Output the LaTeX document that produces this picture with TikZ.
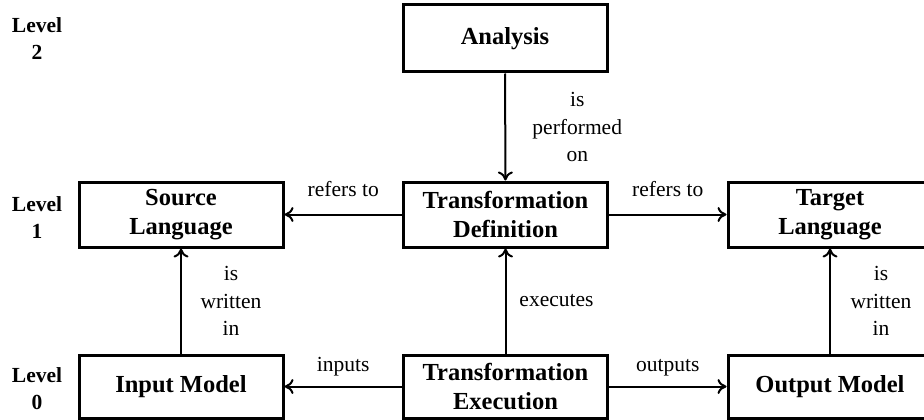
\documentclass[tikz,border=0pt]{standalone}
\usepackage{fontspec}
\setmainfont{Liberation Serif}
\usetikzlibrary{arrows.meta}

\begin{document}
\begin{tikzpicture}[x=1pt,y=-1pt,
    level/.style={align=center,inner sep=0pt,font=\fontsize{21.5}{27}\selectfont\bfseries},
    box/.style={rectangle,draw,line width=3pt,minimum width=204pt,minimum height=65pt,inner sep=0pt,align=center,font=\fontsize{24.5}{29}\selectfont\bfseries},
    conn/.style={line width=2pt,-{To[length=9pt,width=15pt]}},
    lbl/.style={align=center,inner sep=0pt,font=\fontsize{21.5}{27.5}\selectfont}]
        \useasboundingbox (0,0) rectangle (924,420);
        \clip (0,0) rectangle (924,420);
        % levels
        \node[level] at (37,38.5) (lev2) {Level\\2};
        \node[level] at (37,217.5) (lev1) {Level\\1};
        \node[level] at (37,388.5) (lev0) {Level\\0};
        % boxes
        \node[box,minimum height=67pt] at (505,38.5) (ana) {Analysis};
        \node[box] at (181,214.5) (src) {Source\\Language};
        \node[box] at (505.5,214.5) (tdef) {Transformation\\Definition};
        \node[box] at (830,214.5) (tgt) {Target\\Language};
        \node[box,minimum height=63pt] at (181,386.5) (inm) {Input Model};
        \node[box,minimum height=63pt] at (505.5,386.5) (texe) {Transformation\\Execution};
        \node[box,minimum height=63pt] at (830,386.5) (outm) {Output Model};
        % connectors
        \draw[conn] (ana) -- node[lbl,midway,xshift=72pt] (perf) {is\\performed\\on} (tdef);
        \draw[conn] (tdef) -- node[lbl,midway,anchor=base,yshift=18pt] (refl) {refers to} (src);
        \draw[conn] (tdef) -- node[lbl,midway,anchor=base,yshift=18pt] (refr) {refers to} (tgt);
        \draw[conn] (inm) -- node[lbl,midway,xshift=50pt] (wrl) {is\\written\\in} (src);
        \draw[conn] (texe) -- node[lbl,midway,xshift=51pt] (exe) {executes} (tdef);
        \draw[conn] (outm) -- node[lbl,midway,xshift=51pt] (wrr) {is\\written\\in} (tgt);
        \draw[conn] (texe) -- node[lbl,midway,anchor=base,yshift=15pt] (inp) {inputs} (inm);
        \draw[conn] (texe) -- node[lbl,midway,anchor=base,yshift=15pt] (outp) {outputs} (outm);
    \end{tikzpicture}
\end{document}
